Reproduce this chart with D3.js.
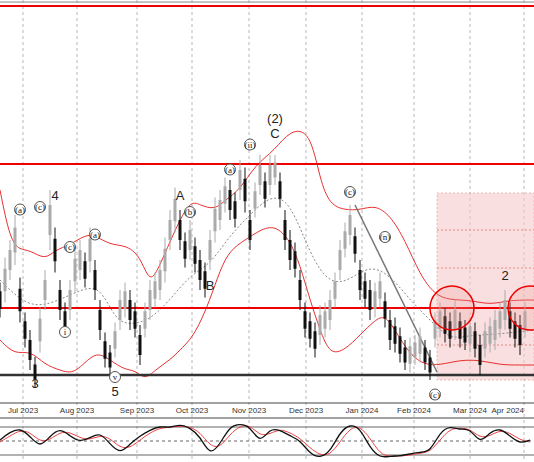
<!DOCTYPE html>
<html><head><meta charset="utf-8">
<script src="https://cdn.jsdelivr.net/npm/d3@7"></script>
<style>body{margin:0;background:#fff}svg{font-family:"Liberation Serif",serif}</style>
</head><body><div id="chart"></div>
<script>
// price in pips above the black support line, one bar every ~2 sessions
const mids = [150,190,230,270,150,90,50,6,90,170,310,250,150,110,150,210,230,210,250,190,110,50,30,70,130,150,130,110,60,110,150,170,190,230,290,330,290,250,270,240,210,190,250,310,330,360,350,330,390,370,290,350,400,370,400,410,370,290,250,230,170,110,90,70,100,110,130,170,230,270,300,260,190,170,150,150,170,130,90,80,60,40,40,50,60,40,20,90,110,100,90,110,90,80,80,70,40,70,80,90,110,130,110,90,80,110];
const spans = [70,90,80,100,90,70,80,60,90,80,120,90,80,70,80,90,80,70,90,80,80,70,60,70,80,70,80,70,80,70,80,70,80,90,80,90,80,70,80,70,80,70,80,90,80,70,80,70,80,90,80,70,80,70,80,60,70,80,80,70,80,70,70,70,80,70,80,70,80,70,80,70,80,70,80,70,70,70,80,70,70,60,70,60,70,60,60,70,70,70,70,80,70,60,70,70,80,70,70,80,70,80,70,70,80,70];
const upperBand = [[0,370],[2,270],[4,250],[6,250],[9,230],[11,250],[14,260],[17,280],[19,280],[22,260],[25,260],[28,240],[30,180],[32,220],[35,290],[38,350],[40,340],[43,330],[45,350],[48,370],[51,420],[55,450],[58,490],[62,490],[64,390],[66,340],[69,330],[72,330],[75,340],[78,320],[81,270],[84,200],[87,160],[90,150],[94,150],[98,140],[102,150],[107,150]];
const lowerBand = [[0,70],[3,40],[6,50],[9,20],[12,10],[15,0],[19,50],[22,30],[25,10],[27,10],[29,-10],[31,10],[34,30],[36,50],[39,80],[42,150],[44,210],[46,250],[49,270],[52,290],[55,300],[58,270],[60,220],[62,150],[64,90],[66,40],[69,50],[72,80],[75,110],[77,120],[79,90],[82,40],[85,20],[88,20],[92,30],[96,30],[100,20],[104,20],[107,20]];
const midBand = [[0,190],[6,130],[12,150],[16,170],[20,180],[23,110],[26,100],[30,110],[34,150],[38,200],[42,220],[46,280],[50,320],[54,360],[58,350],[62,240],[66,180],[70,190],[74,220],[78,200],[82,150],[86,110],[90,70],[94,80],[98,80],[107,90]];
const levelsRed = [738,422,134];
const levelBlack = 0;
const months = [[4.6,"Jul 2023"],[15.4,"Aug 2023"],[27.4,"Sep 2023"],[38.4,"Oct 2023"],[49.8,"Nov 2023"],[61.2,"Dec 2023"],[72.4,"Jan 2024"],[82.8,"Feb 2024"],[94,"Mar 2024"],[104.8,"Apr 2024"]];
const stochK = [50,70,80,60,30,60,80,60,45,55,70,40,15,40,60,75,85,80,90,80,60,10,40,85,90,85,40,80,75,60,50,15,5,20,70,90,80,30,5,10,10,15,20,20,70,85,75,80,40,70,80,60,40,50];
const stochD = [45,60,75,70,45,50,70,70,55,50,62,55,30,30,50,68,80,82,85,83,70,35,30,65,85,88,60,65,78,68,55,30,12,12,45,80,85,55,15,8,10,12,17,20,50,78,80,78,55,60,75,68,50,45];
const waveLabels = [[4,325,"(a)",0],[8,330,"(c)",0],[7,-25,"3",1],[11,350,"4",1],[14,250,"(c)",0],[13,80,"i",0],[19,275,"(a)",0],[23,-10,"v",0],[23,-42,"5",1],[36,350,"A",1],[38,320,"(b)",0],[42,170,"B",1],[46,405,"(a)",0],[50,455,"(ii)",0],[55,505,"(2)",1],[55,475,"C",1],[70,360,"(c)",0],[77,270,"(n)",0],[87,-45,"(c)",0],[101,190,"2",1]];

const W = 534, H = 462;
const svg = d3.select("#chart").append("svg").attr("width", W).attr("height", H);
const x = d3.scaleLinear().domain([0, 107]).range([0, 535]);
const y = d3.scaleLinear().domain([-60, 750]).range([405, 0]);
const yo = d3.scaleLinear().domain([0, 100]).range([460, 420]);

// month grid
svg.selectAll("line.grid").data(months).join("line")
  .attr("x1", d => x(d[0])).attr("x2", d => x(d[0])).attr("y1", 0).attr("y2", 462)
  .attr("stroke", "#999").attr("stroke-dasharray", "3,3").attr("stroke-width", 0.7);

// projection box
const box = svg.append("g");
box.append("rect").attr("x", x(87.4)).attr("y", y(364)).attr("width", W - x(87.4)).attr("height", y(-10) - y(364))
  .attr("fill", "#f6caca").attr("opacity", 0.6).attr("stroke", "#e48a8a").attr("stroke-dasharray", "2,2");
[290, 214, 60].forEach(v => box.append("line").attr("x1", x(87.4)).attr("x2", W).attr("y1", y(v)).attr("y2", y(v))
  .attr("stroke", "#e48a8a").attr("stroke-dasharray", "2,2"));

// bands
const ln = d3.line().x(d => x(d[0])).y(d => y(d[1])).curve(d3.curveBasis);
svg.append("path").attr("d", ln(upperBand)).attr("fill", "none").attr("stroke", "#e83030").attr("stroke-width", 1);
svg.append("path").attr("d", ln(lowerBand)).attr("fill", "none").attr("stroke", "#e83030").attr("stroke-width", 1);
svg.append("path").attr("d", ln(midBand)).attr("fill", "none").attr("stroke", "#888").attr("stroke-dasharray", "2,2");

// levels
levelsRed.forEach(v => svg.append("line").attr("x1", 0).attr("x2", W).attr("y1", y(v)).attr("y2", y(v)).attr("stroke", "#e00").attr("stroke-width", 2));
svg.append("line").attr("x1", 0).attr("x2", W).attr("y1", y(levelBlack)).attr("y2", y(levelBlack)).attr("stroke", "#333").attr("stroke-width", 2.5);
svg.append("line").attr("x1", x(71)).attr("x2", x(87.4)).attr("y1", y(340)).attr("y2", y(6)).attr("stroke", "#777").attr("stroke-width", 1.5);

// bars
const bars = svg.append("g");
mids.forEach((m, i) => {
  const up = i > 0 && m >= mids[i - 1];
  const c = up ? "#aaa" : "#111";
  const s = spans[i] / 2;
  const o = up ? m - s * 0.5 : m + s * 0.5, cl = up ? m + s * 0.5 : m - s * 0.5;
  bars.append("line").attr("x1", x(i)).attr("x2", x(i)).attr("y1", y(m + s)).attr("y2", y(m - s)).attr("stroke", c).attr("stroke-width", 1);
  bars.append("rect").attr("x", x(i) - 1.5).attr("width", 3).attr("y", y(Math.max(o, cl))).attr("height", Math.abs(y(o) - y(cl))).attr("fill", c);
});

// circles of interest
[[90.4, 134], [106, 134]].forEach(d => svg.append("circle").attr("cx", x(d[0])).attr("cy", y(d[1])).attr("r", 22)
  .attr("fill", "#f19a9a").attr("fill-opacity", 0.25).attr("stroke", "#e00").attr("stroke-width", 1.5));

// wave labels
const wl = svg.append("g");
waveLabels.forEach(d => {
  const t = wl.append("text").attr("x", x(d[0])).attr("y", y(d[1])).attr("text-anchor", "middle").text(d[2]);
  if (d[3]) t.attr("font-size", 13).attr("font-family", "Liberation Sans").attr("fill", "#222");
  else { t.attr("font-size", 9).attr("fill", "#222");
    wl.append("circle").attr("cx", x(d[0])).attr("cy", y(d[1]) - 3).attr("r", 5.5).attr("fill", "#fff").attr("stroke", "#555").lower(); }
});

// axis labels
svg.append("line").attr("x1", 0).attr("x2", W).attr("y1", 403).attr("y2", 403).attr("stroke", "#444");
svg.append("line").attr("x1", 0).attr("x2", W).attr("y1", 2).attr("y2", 2).attr("stroke", "#888");
svg.selectAll("text.m").data(months).join("text").attr("class", "m")
  .attr("x", d => x(d[0])).attr("y", 413).attr("text-anchor", d => d[0] > 100 ? "end" : "middle")
  .attr("font-size", 8).attr("font-family", "Liberation Sans").attr("fill", "#333").text(d => d[1]);

// oscillator panel
svg.append("line").attr("x1", 0).attr("x2", W).attr("y1", 418).attr("y2", 418).attr("stroke", "#444");
[427, 455].forEach(v => svg.append("line").attr("x1", 0).attr("x2", W).attr("y1", v).attr("y2", v).attr("stroke", "#666"));
svg.append("line").attr("x1", 0).attr("x2", W).attr("y1", 441).attr("y2", 441).attr("stroke", "#666").attr("stroke-dasharray", "3,3");
const lo = d3.line().x((d, i) => i * 10).y(d => yo(d)).curve(d3.curveBasis);
svg.append("path").attr("d", lo(stochD)).attr("fill", "none").attr("stroke", "#e44").attr("stroke-width", 1);
svg.append("path").attr("d", lo(stochK)).attr("fill", "none").attr("stroke", "#111").attr("stroke-width", 1.3);
</script></body></html>
